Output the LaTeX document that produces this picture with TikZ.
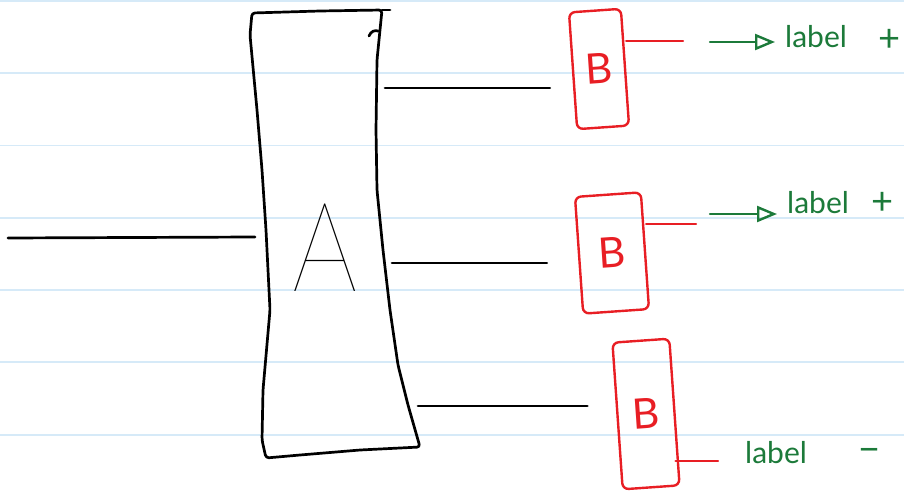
\documentclass[tikz,border=0pt]{standalone}
\usepackage{fontspec}
\setmainfont{Lato}
\IfFontExistsTF{Lato Thin}{\newfontfamily\thinfont{Lato Thin}}{%
  \IfFontExistsTF{Lato Light}{\newfontfamily\thinfont{Lato Light}}{\newfontfamily\thinfont{Lato}}}
\usetikzlibrary{arrows.meta}

\definecolor{ruled}{RGB}{214,234,248}
\definecolor{penred}{RGB}{232,30,36}
\definecolor{pengreen}{RGB}{28,122,58}

\begin{document}
\begin{tikzpicture}[x=1pt,y=-1pt,
  ruling/.style={ruled,line width=1.3pt},
  pen/.style={black,line width=2.7pt,line cap=round,line join=round},
  redpen/.style={penred,line width=2.4pt,line cap=round},
  greenpen/.style={pengreen,line width=2.4pt,line cap=round},
  bbox/.style={draw=penred,line width=2.4pt,rounded corners=6pt,rotate=4,
    text=penred,font=\fontsize{42}{42}\selectfont,inner sep=0pt},
  lbl/.style={text=pengreen,font=\fontsize{30}{30}\selectfont,inner sep=0pt,anchor=base west},
  sign/.style={text=pengreen,font=\fontsize{38}{38}\selectfont,inner sep=0pt,anchor=base}]

\useasboundingbox (0,0) rectangle (904,492);

% ruled paper
\foreach \y in {1,73,145.5,218,290,362,435}
  \draw[ruling] (0,\y) -- (904,\y);


% block A
\draw[pen,rounded corners=3pt] (252,13) -- (320,11) -- (382,10) -- (377,60)
  -- (376,130) -- (377,190) -- (383,250) -- (390,310) -- (398,365)
  -- (408,405) -- (420,447) -- (360,450) -- (300,455) -- (266,458)
  -- (262,440) -- (263,390) -- (270,310) -- (266,230) -- (262,170)
  -- (257,110) -- (250,35) -- cycle;
\draw[pen] (382,10) -- (390,10);
\draw[pen] (369,36) .. controls (371,31) and (375,30) .. (378,31);

\node[inner sep=0pt,xscale=0.82,font=\thinfont\fontsize{125}{125}\selectfont] (A) at (325,248) {A};

\coordinate (in) at (8,238);
\coordinate (A-in) at (255,237);
\coordinate (A-o1) at (385,88);
\coordinate (A-o2) at (392,263);
\coordinate (A-o3) at (418,406);

\draw[pen] (in) -- (A-in);


% blocks B
\node[bbox,minimum width=52pt,minimum height=117pt] (B1) at (599,69) {B};
\node[bbox,minimum width=66pt,minimum height=117pt] (B2) at (612,253) {B};
\node[bbox,minimum width=57pt,minimum height=147pt] (B3) at (646,414) {B};

\draw[pen,shorten >=22pt] (A-o1) -- (A-o1 -| B1.west);
\draw[pen,shorten >=31pt] (A-o2) -- (A-o2 -| B2.west);
\draw[pen,shorten >=29pt] (A-o3) -- (A-o3 -| B3.west);


% outputs
\coordinate (r1) at (683,41);
\coordinate (r2) at (696,224);
\coordinate (r3) at (718,461);

\draw[redpen] (r1 -| B1.east) -- (r1);
\draw[redpen] (r2 -| B2.east) -- (r2);
\draw[redpen] (r3 -| B3.east) -- (r3);

\coordinate (g1) at (710,42);
\coordinate (g2) at (710,214);

\node[lbl] (L1) at (785,48) {label};
\node[lbl] (L2) at (787,213) {label};
\node[lbl] (L3) at (745,463) {label};

\draw[greenpen,-{Triangle[open,length=20pt,width=16pt]},shorten >=10pt] (g1) -- (g1 -| L1.west);
\draw[greenpen,-{Triangle[open,length=20pt,width=16pt]},shorten >=10pt] (g2) -- (g2 -| L2.west);

\node[sign] (s1) at (890,52) {+};
\node[sign] (s2) at (883,214) {+};
\node[sign] (s3) at (870,462) {−};

\end{tikzpicture}
\end{document}
